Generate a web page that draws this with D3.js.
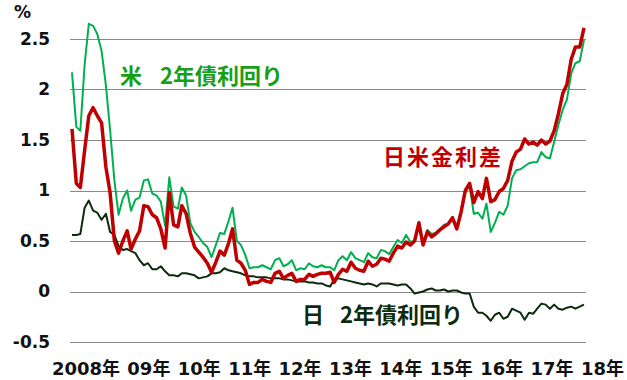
<!DOCTYPE html>
<html>
<head>
<meta charset="utf-8">
<script src="https://cdn.jsdelivr.net/npm/d3@7"></script>
<style>
  body { margin: 0; background: #fff; }
  svg { display: block; }
</style>
</head>
<body>
<svg id="chart" width="627" height="380"></svg>
<script>
// monthly series, first point = Jan 2008
const startMonth = '2008-01';
const yearLabels = ['2008年', '09年', '10年', '11年', '12年', '13年', '14年', '15年', '16年', '17年', '18年'];
const yTicks = [-0.5, 0, 0.5, 1, 1.5, 2, 2.5];

// 米 2年債利回り
const usYield = [
  2.17, 1.63, 1.59, 2.25, 2.65, 2.63, 2.55, 2.38, 2.04, 1.60,
  1.10, 0.76, 0.92, 1.00, 0.80, 0.91, 0.93, 1.10, 1.11, 0.97,
  0.95, 0.89, 0.65, 1.13, 0.84, 0.82, 1.03, 0.95, 0.68, 0.59,
  0.54, 0.48, 0.44, 0.34, 0.46, 0.58, 0.57, 0.70, 0.83, 0.50,
  0.46, 0.36, 0.23, 0.24, 0.24, 0.26, 0.24, 0.22, 0.31, 0.33,
  0.25, 0.27, 0.31, 0.21, 0.23, 0.22, 0.28, 0.25, 0.24, 0.26,
  0.24, 0.24, 0.21, 0.31, 0.35, 0.31, 0.39, 0.33, 0.31, 0.29,
  0.38, 0.34, 0.33, 0.41, 0.40, 0.37, 0.44, 0.51, 0.48, 0.56,
  0.49, 0.50, 0.67, 0.46, 0.61, 0.57, 0.58, 0.62, 0.66, 0.67,
  0.74, 0.63, 0.79, 0.98, 1.05, 0.77, 0.78, 0.72, 0.87, 0.59,
  0.68, 0.79, 0.76, 0.85, 1.12, 1.20, 1.21, 1.24, 1.27, 1.28,
  1.28, 1.38, 1.33, 1.32, 1.48, 1.65, 1.80, 1.90, 2.16, 2.26,
  2.28, 2.49
];

// 日 2年債利回り
const jpYield = [
  0.56, 0.56, 0.57, 0.83, 0.90, 0.80, 0.78, 0.71, 0.77, 0.59,
  0.56, 0.45, 0.41, 0.42, 0.40, 0.38, 0.31, 0.26, 0.28, 0.22,
  0.22, 0.25, 0.20, 0.16, 0.16, 0.15, 0.18, 0.18, 0.17, 0.16,
  0.13, 0.14, 0.15, 0.18, 0.18, 0.19, 0.23, 0.21, 0.20, 0.19,
  0.18, 0.16, 0.15, 0.15, 0.14, 0.14, 0.14, 0.13, 0.13, 0.13,
  0.12, 0.12, 0.11, 0.10, 0.10, 0.10, 0.09, 0.09, 0.08, 0.08,
  0.06, 0.05, 0.12, 0.13, 0.12, 0.11, 0.10, 0.09, 0.08, 0.07,
  0.08, 0.07, 0.05, 0.08, 0.08, 0.08, 0.07, 0.06, 0.07, 0.07,
  0.03, -0.02, -0.01, 0.00, 0.02, 0.03, 0.01, 0.01, 0.02, 0.00,
  0.01, 0.01, -0.01, -0.02, -0.02, -0.15, -0.21, -0.21, -0.24, -0.29,
  -0.23, -0.21, -0.27, -0.25, -0.17, -0.19, -0.21, -0.28, -0.21, -0.22,
  -0.17, -0.12, -0.13, -0.17, -0.13, -0.17, -0.18, -0.16, -0.15, -0.17,
  -0.15, -0.13
];

// 日米金利差
const spread = [
  1.61, 1.07, 1.03, 1.40, 1.74, 1.82, 1.74, 1.67, 1.23, 0.98,
  0.50, 0.38, 0.50, 0.60, 0.42, 0.52, 0.60, 0.85, 0.84, 0.76,
  0.73, 0.62, 0.43, 0.98, 0.66, 0.64, 0.85, 0.77, 0.58, 0.44,
  0.39, 0.34, 0.28, 0.19, 0.29, 0.40, 0.36, 0.48, 0.62, 0.31,
  0.28, 0.21, 0.07, 0.09, 0.09, 0.12, 0.10, 0.09, 0.18, 0.20,
  0.13, 0.16, 0.18, 0.10, 0.12, 0.12, 0.17, 0.15, 0.17, 0.18,
  0.18, 0.19, 0.09, 0.17, 0.22, 0.20, 0.29, 0.23, 0.21, 0.20,
  0.30, 0.25, 0.27, 0.33, 0.32, 0.30, 0.38, 0.45, 0.43, 0.49,
  0.46, 0.50, 0.68, 0.46, 0.59, 0.54, 0.57, 0.61, 0.64, 0.67,
  0.73, 0.62, 0.79, 1.00, 1.07, 0.88, 0.99, 0.92, 1.12, 0.89,
  0.91, 0.99, 1.02, 1.10, 1.29, 1.38, 1.41, 1.51, 1.46, 1.48,
  1.45, 1.50, 1.46, 1.49, 1.59, 1.76, 1.96, 2.05, 2.30, 2.42,
  2.42, 2.61
];

const svg = d3.select('#chart');
const start = d3.timeParse('%Y-%m')(startMonth);
const dates = usYield.map((d, i) => d3.timeMonth.offset(start, i));

const x = d3.scaleTime().domain(d3.extent(dates)).range([72, 584]);
const y = d3.scaleLinear().domain([-0.5, 2.5]).range([342, 39]);
const xl = d3.scalePoint().domain(yearLabels).range([120, 624]);

const boldFont = '"DejaVu Sans", "Noto Sans CJK JP", sans-serif';
const jpFont = '"Noto Sans CJK JP", sans-serif';

// gridlines
svg.append('g')
  .selectAll('line')
  .data(yTicks)
  .enter()
  .append('line')
  .attr('x1', 70)
  .attr('x2', 586)
  .attr('y1', (d) => Math.round(y(d)) + 0.5)
  .attr('y2', (d) => Math.round(y(d)) + 0.5)
  .style('stroke', '#8a8a8a')
  .style('stroke-width', 1);

// y axis labels
const yAxis = svg.append('g')
  .attr('transform', 'translate(50, 0)')
  .call(d3.axisLeft(y).tickValues(yTicks).tickSize(0).tickPadding(0).tickFormat((d) => String(d)));
yAxis.select('.domain').remove();
yAxis.selectAll('text')
  .attr('dy', '0.3em')
  .style('font', `bold 17px ${boldFont}`)
  .style('fill', '#111');

svg.append('text')
  .attr('x', 14)
  .attr('y', 18)
  .style('font', `bold 17px ${boldFont}`)
  .style('fill', '#111')
  .text('%');

// x labels
svg.append('g')
  .selectAll('text')
  .data(yearLabels)
  .enter()
  .append('text')
  .attr('x', (d) => xl(d))
  .attr('y', 375)
  .attr('text-anchor', 'end')
  .style('font', `bold 18px ${boldFont}`)
  .style('fill', '#111')
  .text((d) => d);

const line = d3.line()
  .x((d, i) => x(dates[i]))
  .y((d) => y(d));

const series = [
  { id: 'us', values: usYield, color: '#00b050', width: 2 },
  { id: 'jp', values: jpYield, color: '#0c2a0c', width: 2 },
  { id: 'spread', values: spread, color: '#c00000', width: 3.5 }
];

svg.selectAll('.series')
  .data(series)
  .enter()
  .append('path')
  .attr('class', 'series')
  .attr('d', (d) => line(d.values))
  .style('fill', 'none')
  .style('stroke', (d) => d.color)
  .style('stroke-width', (d) => d.width)
  .style('stroke-linejoin', 'round');

// labels on the chart
const notes = [
  { text: '米', x: 120, y: 84, color: '#16a016', spacing: 0 },
  { text: '2年債利回り', x: 160, y: 84, color: '#16a016', spacing: 0 },
  { text: '日米金利差', x: 383, y: 165, color: '#c00000', spacing: 2 },
  { text: '日', x: 302, y: 323, color: '#0c2a0c', spacing: 0 },
  { text: '2年債利回り', x: 340, y: 323, color: '#0c2a0c', spacing: 0 }
];

svg.selectAll('.note')
  .data(notes)
  .enter()
  .append('text')
  .attr('class', 'note')
  .attr('x', (d) => d.x)
  .attr('y', (d) => d.y)
  .style('font', `bold 22px ${jpFont}`)
  .style('letter-spacing', (d) => `${d.spacing}px`)
  .style('fill', (d) => d.color)
  .text((d) => d.text);
</script>
</body>
</html>
